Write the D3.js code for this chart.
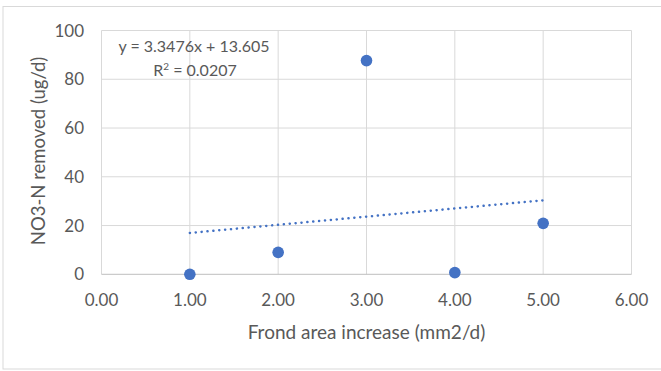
<!DOCTYPE html>
<html>
<head>
<meta charset="utf-8">
<script src="https://cdn.jsdelivr.net/npm/d3@7"></script>
<style>
  body { margin: 0; background: #fff; }
  text { font-family: Lato, "Liberation Sans", Arial, sans-serif; fill: #595959; }
</style>
</head>
<body>
<div id="chart"></div>
<script>
"use strict";
// scatter data
var xValues = [1, 2, 3, 4, 5];
var yValues = [0, 9, 87.65, 0.7, 20.89];
var xTicks = [0, 1, 2, 3, 4, 5, 6];
var yTicks = [0, 20, 40, 60, 80, 100];
// linear trendline as printed on the chart
var trendSlope = 3.3476,
  trendIntercept = 13.605,
  trendR2 = 0.0207;

var w = 661,
  h = 371;

var svg = d3
  .select("#chart")
  .append("svg")
  .attr("width", w)
  .attr("height", h);

// outer chart border
svg
  .append("rect")
  .attr("x", 3)
  .attr("y", 6.5)
  .attr("width", w + 10)
  .attr("height", 362.5)
  .attr("fill", "none")
  .attr("stroke", "#d9d9d9")
  .attr("stroke-width", 1);

var x = d3.scaleLinear().domain([0, 6]).range([101.5, 631.5]);
var y = d3.scaleLinear().domain([0, 100]).range([274.3, 30.5]);

var grid = svg.append("g");

grid
  .selectAll(".vgrid")
  .data(xTicks)
  .enter()
  .append("line")
  .attr("x1", function(d) {
    return x(d);
  })
  .attr("x2", function(d) {
    return x(d);
  })
  .attr("y1", y(0))
  .attr("y2", y(100))
  .attr("stroke", "#d9d9d9")
  .attr("stroke-width", 1);

grid
  .selectAll(".hgrid")
  .data(yTicks)
  .enter()
  .append("line")
  .attr("x1", x(0))
  .attr("x2", x(6))
  .attr("y1", function(d) {
    return y(d);
  })
  .attr("y2", function(d) {
    return y(d);
  })
  .attr("stroke", function(d) {
    return d === 0 ? "#bfbfbf" : "#d9d9d9";
  })
  .attr("stroke-width", 1);

//tick labels
svg
  .selectAll(".xlab")
  .data(xTicks)
  .enter()
  .append("text")
  .attr("x", function(d) {
    return x(d);
  })
  .attr("y", 306)
  .attr("text-anchor", "middle")
  .style("font-size", "17px")
  .text(function(d) {
    return d3.format(".2f")(d);
  });

svg
  .selectAll(".ylab")
  .data(yTicks)
  .enter()
  .append("text")
  .attr("x", 84)
  .attr("y", function(d) {
    return y(d) + 6;
  })
  .attr("text-anchor", "end")
  .style("font-size", "17px")
  .text(function(d) {
    return d;
  });

// axis titles
svg
  .append("text")
  .attr("x", x(3))
  .attr("y", 339)
  .attr("text-anchor", "middle")
  .style("font-size", "19px")
  .text("Frond area increase (mm2/d)");

svg
  .append("text")
  .attr("transform", "translate(45,151) rotate(-90)")
  .attr("text-anchor", "middle")
  .style("font-size", "18.5px")
  .text("NO3-N removed (ug/d)");

// trendline over the data range
var xExt = d3.extent(xValues);
svg
  .append("line")
  .attr("x1", x(xExt[0]))
  .attr("y1", y(trendSlope * xExt[0] + trendIntercept))
  .attr("x2", x(xExt[1]))
  .attr("y2", y(trendSlope * xExt[1] + trendIntercept))
  .attr("stroke", "#4472c4")
  .attr("stroke-width", 2.5)
  .attr("stroke-linecap", "round")
  .attr("stroke-dasharray", "0.1 5.8");

// points
svg
  .selectAll(".pt")
  .data(xValues)
  .enter()
  .append("circle")
  .attr("cx", function(d) {
    return x(d);
  })
  .attr("cy", function(d, i) {
    return y(yValues[i]);
  })
  .attr("r", 5.8)
  .attr("fill", "#4472c4");

// equation label
svg
  .append("text")
  .attr("x", 194)
  .attr("y", 52)
  .attr("text-anchor", "middle")
  .style("font-size", "16px")
  .text("y = " + trendSlope + "x + " + trendIntercept);

var r2 = svg
  .append("text")
  .attr("x", 195)
  .attr("y", 76)
  .attr("text-anchor", "middle")
  .style("font-size", "16px");
r2.append("tspan").text("R");
r2.append("tspan")
  .attr("dy", -6)
  .style("font-size", "10px")
  .text("2");
r2.append("tspan")
  .attr("dy", 6)
  .text(" = " + trendR2);
</script>
</body>
</html>
